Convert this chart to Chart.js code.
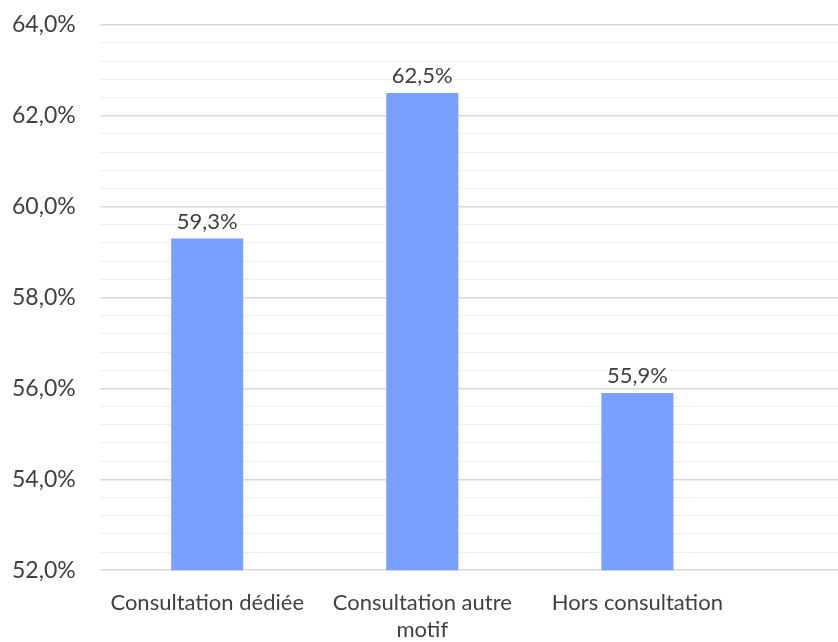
<!DOCTYPE html>
<html><head><meta charset="utf-8">
<script src="https://cdn.jsdelivr.net/npm/chart.js@4"></script>
<style>
html,body{margin:0;padding:0;background:#fff;overflow:hidden;width:838px;height:642px;}
#wrap{width:972px;height:676px;position:absolute;left:-12px;top:-13px;}
</style></head>
<body>
<div id="wrap"><canvas id="c"></canvas></div>
<script>
const categories = [["Consultation dédiée"], ["Consultation autre", "motif"], ["Hors consultation"], [""]];
const values = [59.3, 62.5, 55.9, null];
const yMin = 52, yMax = 64, yStep = 0.4, labelStep = 2;

const fmt = v => v.toFixed(1).replace('.', ',') + '%';
const FONT = 'Lato';
const TXT = '#404040';

const valueLabels = {
  id: 'valueLabels',
  afterDatasetsDraw(chart) {
    const ctx = chart.ctx;
    const meta = chart.getDatasetMeta(0);
    ctx.save();
    ctx.font = '22px ' + FONT;
    ctx.fillStyle = TXT;
    ctx.textAlign = 'center';
    ctx.textBaseline = 'bottom';
    meta.data.forEach((bar, i) => {
      const v = chart.data.datasets[0].data[i];
      if (v == null) return;
      ctx.fillText(fmt(v), bar.x, bar.y - 6);
    });
    ctx.restore();
  }
};

const isMajor = v => Math.abs(v / labelStep - Math.round(v / labelStep)) < 1e-6;

new Chart(document.getElementById('c'), {
  type: 'bar',
  data: {
    labels: categories,
    datasets: [{
      data: values,
      backgroundColor: '#7aa0ff',
      barPercentage: 0.335,
      categoryPercentage: 1.0
    }]
  },
  options: {
    responsive: true,
    maintainAspectRatio: false,
    animation: false,
    layout: { padding: 0 },
    plugins: { legend: { display: false }, tooltip: { enabled: false } },
    scales: {
      x: {
        grid: { display: false, drawTicks: false },
        border: { display: false },
        ticks: { color: TXT, font: { family: FONT, size: 22, lineHeight: 1.2 }, padding: 20, maxRotation: 0, autoSkip: false }
      },
      y: {
        min: yMin, max: yMax,
        border: { display: false },
        grid: {
          drawTicks: false,
          color: ctx => isMajor(ctx.tick ? ctx.tick.value : 0) ? '#d9d9d9' : '#f0f0f0',
          lineWidth: ctx => isMajor(ctx.tick ? ctx.tick.value : 0) ? 1.5 : 1
        },
        ticks: {
          stepSize: yStep,
          autoSkip: false,
          padding: 24,
          color: TXT,
          font: { family: FONT, size: 23 },
          callback: v => isMajor(v) ? fmt(v) : ''
        }
      }
    }
  },
  plugins: [valueLabels]
});
</script>
</body></html>
